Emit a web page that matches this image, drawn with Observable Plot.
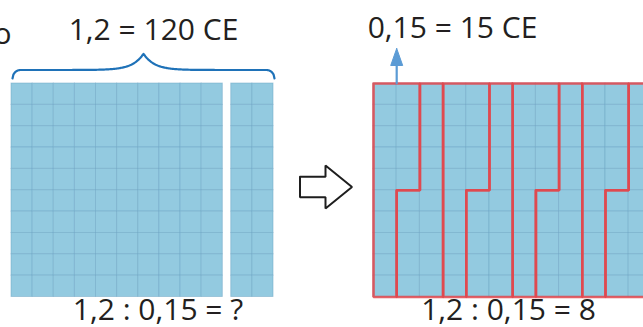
<!DOCTYPE html>
<html><head><meta charset="utf-8">
<script src="https://cdn.jsdelivr.net/npm/d3@7"></script>
<script src="https://cdn.jsdelivr.net/npm/@observablehq/plot@0.6"></script>
<style>
html,body{margin:0;padding:0;background:#fff;overflow:hidden}
#wrap{position:relative;width:643px;height:327px;overflow:hidden;background:#fff}
#left,#right{position:absolute;top:0}
#left{left:0}
#right{left:290px}
svg{overflow:hidden}
</style></head><body><div id="wrap"><div id="left"></div><div id="right"></div></div>
<script>
// ---------- data ----------
const dividend = [1.2];            // 1,2
const divisor = [0.15];            // 0,15
const cellsPerWhole = [100];       // one whole = 10 x 10 cells
const gridRows = [10];
const wholeColumns = [10];
const extraColumns = [2];
const topLabels = ["1,2 = 120 CE", "0,15 = 15 CE"];
const bottomLabels = ["1,2 : 0,15 = ?", "1,2 : 0,15 = 8"];
const cutLetter = ["o"];

// ---------- derived ----------
const R = gridRows[0];
const totalCells = Math.round(dividend[0] * cellsPerWhole[0]);      // 120
const pieceCells = Math.round(divisor[0] * cellsPerWhole[0]);       // 15
const nPieces = Math.round(totalCells / pieceCells);                // 8
const totalCols = totalCells / R;                                   // 12

// ---------- layout ----------
const FONT = "'Open Sans', 'Noto Sans', sans-serif";
const INK = "#231f20";
const CELL = "#93cae0", GRIDLINE = "#6ea6c4", RED = "#e2474c", BLUE = "#1f72b8", LBLUE = "#5b9bd5";
const GAP = 0.4;
const TOP = 83, ROWH = 21.35;
const L0 = 11, LW = 21.13;         // left picture: px of column 0 and column width
const ROFF = 290, R0 = 373, RW = 23.2; // right picture
const ly = py => (py - TOP) / ROWH;
const lx = px => (px - L0) / LW;
const rx = px => (px - R0) / RW;

function cellsOf(blocks) {
  return blocks.flatMap(b => d3.range(b.cols).flatMap(c => d3.range(R).map(r => ({
    x1: b.start + c, x2: b.start + c + 1, y1: r, y2: r + 1
  }))));
}

// ---------- left picture ----------
const leftBlocks = [{start: 0, cols: wholeColumns[0]}, {start: wholeColumns[0] + GAP, cols: extraColumns[0]}];
const leftEnd = wholeColumns[0] + GAP + extraColumns[0];

// curly brace (pixel geometry -> scale units)
const bx0 = 12, bx1 = 274, bxt = (bx0 + bx1) / 2, yMid = 69.5, yEnd = 78, yTip = 53.3;
const brace = d3.range(0, 301).map(i => {
  const px = bx0 + (bx1 - bx0) * i / 300;
  const d = Math.min(px - bx0, bx1 - px);   // distance to nearest end
  const e = Math.abs(px - bxt);              // distance to tip
  const rr = 8;
  const f = d < rr ? 1 - Math.sqrt(1 - Math.pow(1 - d / rr, 2)) : 0;
  const py = yMid + (yEnd - yMid) * f + (yTip - yMid) * Math.exp(-e / 11);
  return {x: lx(px), y: ly(py)};
});

const leftPlot = Plot.plot({
  width: 290, height: 327, margin: 0,
  x: {domain: [0, leftEnd], range: [L0, L0 + leftEnd * LW], axis: null},
  y: {domain: [0, R], range: [TOP, TOP + R * ROWH], axis: null},
  style: {fontFamily: FONT, background: "transparent", overflow: "hidden"},
  marks: [
    Plot.rect(cellsOf(leftBlocks), {x1: "x1", x2: "x2", y1: "y1", y2: "y2", fill: CELL, stroke: GRIDLINE, strokeWidth: 0.9, strokeOpacity: 0.55}),
    Plot.line(brace, {x: "x", y: "y", stroke: BLUE, strokeWidth: 2.2, curve: "linear"}),
    Plot.text([topLabels[0]], {x: lx(153), y: ly(39), text: d => d, fontSize: 30, fill: INK, textAnchor: "middle", lineAnchor: "bottom"}),
    Plot.text([bottomLabels[0]], {x: lx(157.5), y: ly(319), text: d => d, fontSize: 30, fill: INK, textAnchor: "middle", lineAnchor: "bottom"}),
    Plot.text(cutLetter, {x: lx(11), y: ly(43.5), text: d => d, fontSize: 30, fill: INK, textAnchor: "end", lineAnchor: "bottom"})
  ]
});
document.getElementById("left").appendChild(leftPlot);

// ---------- right picture ----------
const rightBlocks = [{start: 0, cols: totalCols}];

// outlines of the pieces of 15 cells, filled column by column (top to bottom)
function pieceOutline(s, e, id) {
  const cs = Math.floor(s / R), rs = s % R, ce = Math.floor(e / R), re = e % R;
  const xr = re > 0 ? ce + 1 : ce;
  const pts = [];
  if (rs > 0) { pts.push([cs, rs], [cs + 1, rs], [cs + 1, 0]); } else { pts.push([cs, 0]); }
  pts.push([xr, 0]);
  if (re > 0) { pts.push([xr, re], [ce, re], [ce, R]); } else { pts.push([xr, R]); }
  pts.push([cs, R]);
  pts.push(pts[0]);
  return pts.map(([x, y]) => ({x, y, id}));
}
const pieces = d3.range(nPieces).flatMap(k => pieceOutline(k * pieceCells, (k + 1) * pieceCells, k));

// hollow arrow (pixel geometry)
const ax0 = 299.5, axh = 325, axt = 351.5, acy = 186.5, ash = 10.25, ahh = 21.5;
const hollowArrow = [[ax0, acy - ash], [axh, acy - ash], [axh, acy - ahh], [axt, acy], [axh, acy + ahh], [axh, acy + ash], [ax0, acy + ash], [ax0, acy - ash]]
  .map(([px, py]) => ({x: rx(px), y: ly(py)}));

// blue pointer arrow above the first piece
const pX = 1;
const pointerShaft = [{x: pX, y: 0}, {x: pX, y: ly(62)}];
const pointerHead = [{x: pX, y: ly(48)}, {x: pX - 6 / RW, y: ly(65)}, {x: pX + 6 / RW, y: ly(65)}, {x: pX, y: ly(48)}];

const rightPlot = Plot.plot({
  width: 353, height: 327, margin: 0,
  x: {domain: [0, totalCols], range: [R0 - ROFF, R0 - ROFF + totalCols * RW], axis: null},
  y: {domain: [0, R], range: [TOP, TOP + R * ROWH], axis: null},
  style: {fontFamily: FONT, background: "transparent", overflow: "hidden"},
  marks: [
    Plot.rect(cellsOf(rightBlocks), {x1: "x1", x2: "x2", y1: "y1", y2: "y2", fill: CELL, stroke: GRIDLINE, strokeWidth: 0.9, strokeOpacity: 0.55}),
    Plot.line(pieces, {x: "x", y: "y", z: "id", stroke: RED, strokeWidth: 2.6, strokeOpacity: 0.85, strokeLinejoin: "miter"}),
    Plot.line(hollowArrow, {x: "x", y: "y", stroke: "#1e1e1e", strokeWidth: 2, fill: "white", strokeLinejoin: "miter"}),
    Plot.line(pointerShaft, {x: "x", y: "y", stroke: LBLUE, strokeWidth: 2.2}),
    Plot.line(pointerHead, {x: "x", y: "y", stroke: LBLUE, strokeWidth: 1, fill: LBLUE}),
    Plot.text([topLabels[1]], {x: rx(452), y: ly(37.5), text: d => d, fontSize: 30, fill: INK, textAnchor: "middle", lineAnchor: "bottom"}),
    Plot.text([bottomLabels[1]], {x: rx(508), y: ly(319), text: d => d, fontSize: 30, fill: INK, textAnchor: "middle", lineAnchor: "bottom"})
  ]
});
document.getElementById("right").appendChild(rightPlot);
</script>
</body></html>
